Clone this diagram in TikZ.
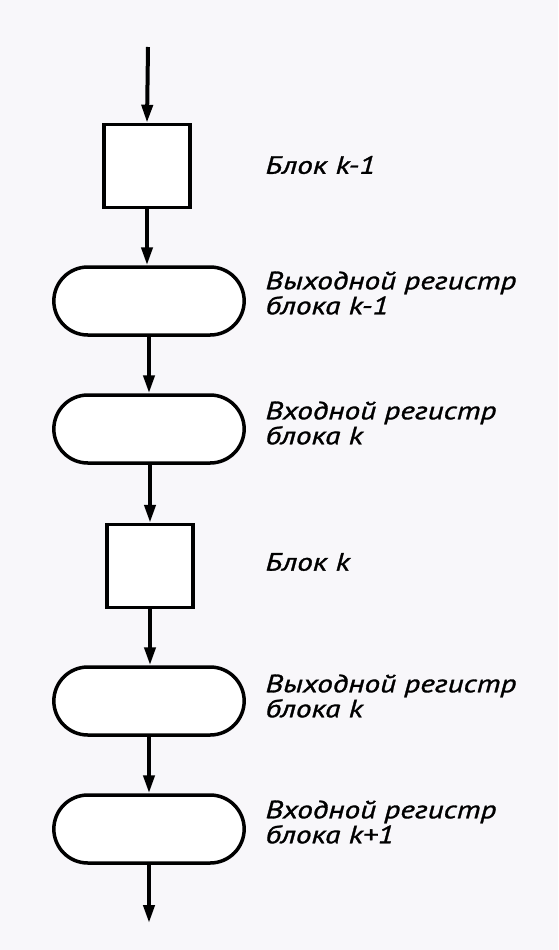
\documentclass[tikz,border=0pt]{standalone}
\usepackage{fontspec}
\setmainfont{PT Sans}[ItalicFeatures={FakeStretch=1.25,FakeBold=1.2}]
\usepackage{tikz}
\usetikzlibrary{arrows.meta,positioning,shapes.misc}
\definecolor{PaperWhite}{HTML}{F8F7FA}
\tikzset{
  blok/.style={rectangle,draw=black,line width=3.5pt,fill=white,
               minimum width=86pt,minimum height=83pt},
  reg/.style={rounded rectangle,draw=black,line width=3.5pt,fill=white,
              minimum width=197pt,minimum height=68pt},
  lbl/.style={anchor=west,align=left,font=\fontsize{25}{25}\selectfont\itshape},
  arr/.style={-{Triangle[length=18pt,width=11pt]},line width=4pt},
}
\begin{document}
\begin{tikzpicture}[x=1pt,y=-1pt]
  \useasboundingbox[fill=PaperWhite] (0,0) rectangle (558,950);

  % chain of blocks and registers
  \coordinate (top) at (148,47);
  \node[blok] (blkA) at (147,166) {};
  \node[reg]  (outA) at (149,301) {};
  \node[reg]  (inB)  at (149,429) {};
  \node[blok] (blkB) at (150,566) {};
  \node[reg]  (outB) at (149,701) {};
  \node[reg]  (inC)  at (149,829) {};
  \coordinate (bot) at (149,923);

  \draw[arr] (top) -- (blkA.north);
  \draw[arr] (blkA.south) -- (blkA.south |- outA.north);
  \draw[arr] (outA.south) -- (inB.north);
  \draw[arr] (inB.south -| blkB.north) -- (blkB.north);
  \draw[arr] (blkB.south) -- (blkB.south |- outB.north);
  \draw[arr] (outB.south) -- (inC.north);
  \draw[arr] (inC.south) -- (bot);

  % labels
  \node[lbl] (lblA)  at (262,165) {Блок  k-1};
  \node[lbl] (lblOA) at (262,293) {Выходной регистр\\блока k-1};
  \node[lbl] (lblIB) at (262,423) {Входной регистр\\блока k};
  \node[lbl] (lblB)  at (262,562) {Блок  k};
  \node[lbl] (lblOB) at (262,696) {Выходной регистр\\блока k};
  \node[lbl] (lblIC) at (262,822) {Входной регистр\\блока k+1};
\end{tikzpicture}
\end{document}
